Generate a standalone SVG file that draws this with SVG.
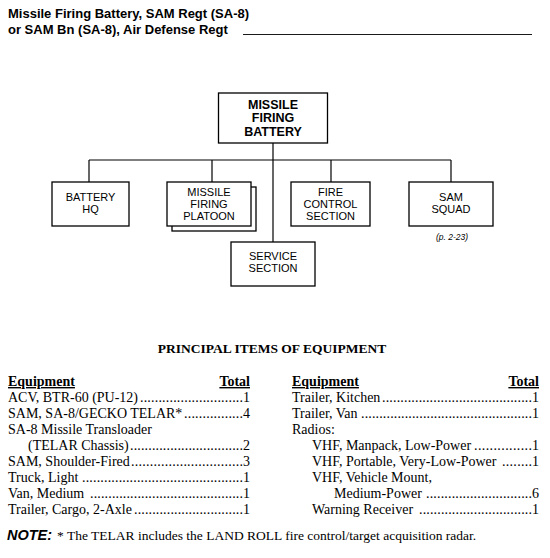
<svg xmlns="http://www.w3.org/2000/svg" width="550" height="558" viewBox="0 0 550 558">
<style>
.hdr{font-family:"Liberation Sans",Arial,sans-serif;font-weight:bold;font-size:13px;fill:#000}
.box{fill:#fff;stroke:#000;stroke-width:1.3}
.con{fill:none;stroke:#000;stroke-width:1.2}
.top{font-family:"Liberation Sans",Arial,sans-serif;font-weight:bold;font-size:12.5px;text-anchor:middle;fill:#000}
.sub{font-family:"Liberation Sans",Arial,sans-serif;font-size:11px;text-anchor:middle;fill:#000}
.ref{font-family:"Liberation Sans",Arial,sans-serif;font-style:italic;font-size:8.5px;text-anchor:middle;fill:#000}
.ttl{font-family:"Liberation Serif","Times New Roman",serif;font-weight:bold;font-size:13.5px;text-anchor:middle;fill:#000}
.th{font-family:"Liberation Serif","Times New Roman",serif;font-weight:bold;font-size:14px;text-decoration:underline;fill:#000}
.it{font-family:"Liberation Serif","Times New Roman",serif;font-size:14px;fill:#000}
.num{font-family:"Liberation Serif","Times New Roman",serif;font-size:14px;text-anchor:end;fill:#000}
.note{font-family:"Liberation Sans",Arial,sans-serif;font-weight:bold;font-style:italic;font-size:14.5px;fill:#000}
.nt{font-family:"Liberation Serif","Times New Roman",serif;font-size:13.5px;fill:#000}
</style>

<text class="hdr" x="8" y="18">Missile Firing Battery, SAM Regt (SA-8)</text>
<text class="hdr" x="8" y="34">or SAM Bn (SA-8), Air Defense Regt</text>
<line x1="243" y1="34.5" x2="532" y2="34.5" stroke="#000" stroke-width="0.9"/>

<g id="connectors">
<line class="con" x1="273" y1="143" x2="273" y2="242"/>
<line class="con" x1="89" y1="160" x2="451" y2="160"/>
<line class="con" x1="89" y1="160" x2="89" y2="182"/>
<line class="con" x1="212" y1="160" x2="212" y2="182"/>
<line class="con" x1="331" y1="160" x2="331" y2="182"/>
<line class="con" x1="451" y1="160" x2="451" y2="182"/>
</g>

<g id="missile-firing-battery">
<rect class="box" x="218.5" y="93" width="109" height="50"/>
<text class="top" x="273" y="108.5">MISSILE</text>
<text class="top" x="273" y="122">FIRING</text>
<text class="top" x="273" y="135.5">BATTERY</text>
</g>

<g id="battery-hq">
<rect class="box" x="52" y="182" width="77" height="44"/>
<text class="sub" x="90.5" y="201">BATTERY</text>
<text class="sub" x="90.5" y="213">HQ</text>
</g>

<g id="missile-firing-platoon">
<rect class="box" x="172" y="187" width="84" height="44"/>
<rect class="box" x="167" y="182" width="84" height="44"/>
<text class="sub" x="209" y="196">MISSILE</text>
<text class="sub" x="209" y="208">FIRING</text>
<text class="sub" x="209" y="220">PLATOON</text>
</g>

<g id="fire-control-section">
<rect class="box" x="291" y="182" width="79" height="44"/>
<text class="sub" x="330.5" y="196">FIRE</text>
<text class="sub" x="330.5" y="208">CONTROL</text>
<text class="sub" x="330.5" y="220">SECTION</text>
</g>

<g id="sam-squad">
<rect class="box" x="409" y="182" width="84" height="44"/>
<text class="sub" x="451" y="201">SAM</text>
<text class="sub" x="451" y="213">SQUAD</text>
<text class="ref" x="452" y="240">(p. 2-23)</text>
</g>

<g id="service-section">
<rect class="box" x="231" y="242" width="84" height="44"/>
<text class="sub" x="273" y="260">SERVICE</text>
<text class="sub" x="273" y="272">SECTION</text>
</g>

<text class="ttl" x="272" y="353">PRINCIPAL ITEMS OF EQUIPMENT</text>

<g id="left-table">
<text class="th" x="8" y="386">Equipment</text>
<text class="th" x="250" y="386" text-anchor="end">Total</text>
<text class="it" x="8" y="402">ACV, BTR-60 (PU-12)</text>
<text class="it" x="140" y="402" textLength="103" lengthAdjust="spacing">............................</text>
<text class="num" x="250" y="402">1</text>
<text class="it" x="8" y="418">SAM, SA-8/GECKO TELAR*</text>
<text class="it" x="184" y="418" textLength="59" lengthAdjust="spacing">................</text>
<text class="num" x="250" y="418">4</text>
<text class="it" x="8" y="434">SA-8 Missile Transloader</text>
<text class="it" x="28" y="450">(TELAR Chassis)</text>
<text class="it" x="130" y="450" textLength="113" lengthAdjust="spacing">...............................</text>
<text class="num" x="250" y="450">2</text>
<text class="it" x="8" y="466">SAM, Shoulder-Fired</text>
<text class="it" x="131" y="466" textLength="112" lengthAdjust="spacing">..............................</text>
<text class="num" x="250" y="466">3</text>
<text class="it" x="8" y="482">Truck, Light</text>
<text class="it" x="82" y="482" textLength="161" lengthAdjust="spacing">............................................</text>
<text class="num" x="250" y="482">1</text>
<text class="it" x="8" y="498">Van, Medium</text>
<text class="it" x="90" y="498" textLength="153" lengthAdjust="spacing">..........................................</text>
<text class="num" x="250" y="498">1</text>
<text class="it" x="8" y="514">Trailer, Cargo, 2-Axle</text>
<text class="it" x="134" y="514" textLength="109" lengthAdjust="spacing">..............................</text>
<text class="num" x="250" y="514">1</text>
</g>

<g id="right-table">
<text class="th" x="292" y="386">Equipment</text>
<text class="th" x="539" y="386" text-anchor="end">Total</text>
<text class="it" x="292" y="402">Trailer, Kitchen</text>
<text class="it" x="382" y="402" textLength="150" lengthAdjust="spacing">.........................................</text>
<text class="num" x="539" y="402">1</text>
<text class="it" x="292" y="418">Trailer, Van</text>
<text class="it" x="361" y="418" textLength="171" lengthAdjust="spacing">...............................................</text>
<text class="num" x="539" y="418">1</text>
<text class="it" x="292" y="434">Radios:</text>
<text class="it" x="312" y="450">VHF, Manpack, Low-Power</text>
<text class="it" x="474" y="450" textLength="58" lengthAdjust="spacing">...............</text>
<text class="num" x="539" y="450">1</text>
<text class="it" x="312" y="466">VHF, Portable, Very-Low-Power</text>
<text class="it" x="502" y="466" textLength="30" lengthAdjust="spacing">........</text>
<text class="num" x="539" y="466">1</text>
<text class="it" x="312" y="482">VHF, Vehicle Mount,</text>
<text class="it" x="334" y="498">Medium-Power</text>
<text class="it" x="426" y="498" textLength="106" lengthAdjust="spacing">.............................</text>
<text class="num" x="539" y="498">6</text>
<text class="it" x="312" y="514">Warning Receiver</text>
<text class="it" x="419" y="514" textLength="113" lengthAdjust="spacing">...............................</text>
<text class="num" x="539" y="514">1</text>
</g>

<g id="note">
<text class="note" x="7" y="540">NOTE:</text>
<text class="nt" x="57" y="540">*</text>
<text class="nt" x="67" y="540">The TELAR includes the LAND ROLL fire control/target acquisition radar.</text>
</g>
</svg>
